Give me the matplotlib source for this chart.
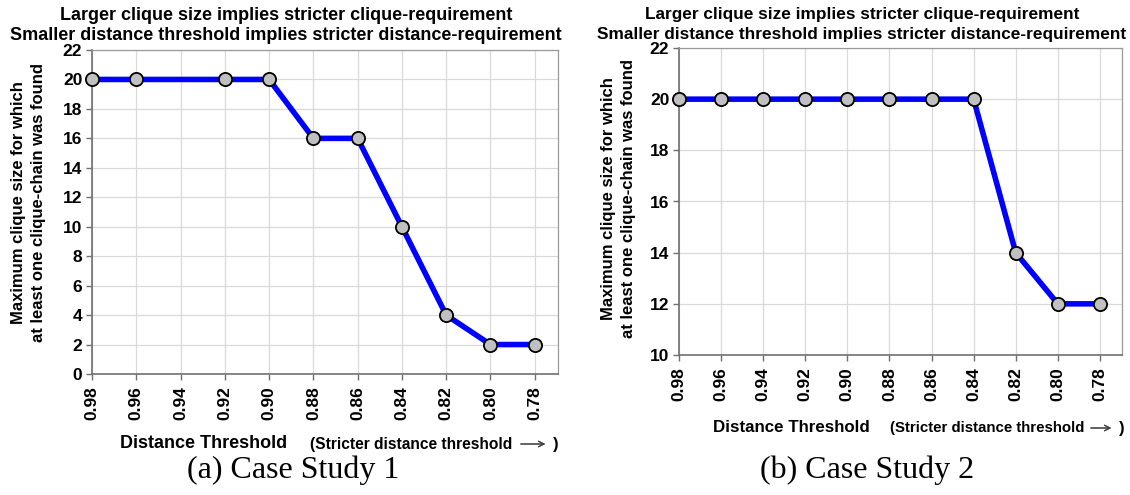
import matplotlib
matplotlib.use("Agg")
import matplotlib.pyplot as plt

# datos
umbral_1 = [0.98, 0.96, 0.92, 0.90, 0.88, 0.86, 0.84, 0.82, 0.80, 0.78]
clique_1 = [20, 20, 20, 20, 16, 16, 10, 4, 2, 2]

umbral_2 = [0.98, 0.96, 0.94, 0.92, 0.90, 0.88, 0.86, 0.84, 0.82, 0.80, 0.78]
clique_2 = [20, 20, 20, 20, 20, 20, 20, 20, 14, 12, 12]

xticks = [0.98, 0.96, 0.94, 0.92, 0.90, 0.88, 0.86, 0.84, 0.82, 0.80, 0.78]
yticks_1 = list(range(0, 23, 2))
yticks_2 = list(range(10, 23, 2))

titulo_1 = "Larger clique size implies stricter clique-requirement"
titulo_2 = "Smaller distance threshold implies stricter distance-requirement"
ylabel_1 = "Maximum clique size for which"
ylabel_2 = "at least one clique-chain was found"

plt.rcParams['font.family'] = ['Liberation Sans', 'DejaVu Sans']
plt.rcParams['font.weight'] = 'bold'

W, H = 1130, 495
fig = plt.figure(figsize=(11.3, 4.95), dpi=100)
ax1 = fig.add_axes([92/W, 1-374/H, (558-92)/W, (374-50)/H])
ax2 = fig.add_axes([679/W, 1-355/H, (1122-679)/W, (355-48)/H])


def dibujar(ax, x, y, yt):
    ax.plot(x, y, color='#0000ff', lw=4, marker='o', ms=9.5,
            mfc='#c0c0c0', mec='black', mew=1.3, zorder=3, clip_on=False)
    ax.set_xlim(0.98, 0.7695)
    ax.set_ylim(yt[0], yt[-1])
    ax.set_xticks(xticks)
    ax.set_xticklabels(["%.2f" % v for v in xticks], rotation=90,
                       fontsize=12.5, fontweight='bold')
    ax.set_yticks(yt)
    ax.set_yticklabels([str(v) for v in yt], fontsize=12.5, fontweight='bold')
    ax.grid(True, color='#d9d9d9', lw=0.9)
    ax.set_axisbelow(True)
    for s in ['top', 'right']:
        ax.spines[s].set_color('#9a9a9a')
        ax.spines[s].set_linewidth(0.9)
    for s in ['left', 'bottom']:
        ax.spines[s].set_color('#707070')
        ax.spines[s].set_linewidth(1.2)
    ax.tick_params(length=4, width=1, color='#707070')
    ax.tick_params(axis='x', pad=5)
    ax.tick_params(axis='y', pad=3)


dibujar(ax1, umbral_1, clique_1, yticks_1)
dibujar(ax2, umbral_2, clique_2, yticks_2)


def txt(x, y, s, **kw):
    fig.text(x/W, 1-y/H, s, **kw)


# titulos
for cx, fs in [(286, 13), (862, 12.4)]:
    txt(cx, 15, titulo_1, ha='center', va='center', fontsize=fs, fontweight='bold')
    txt(cx, 35, titulo_2, ha='center', va='center', fontsize=fs, fontweight='bold')

# etiquetas eje y
for x1, x2, cy in [(19, 39, 203), (608, 628, 199)]:
    txt(x1, cy, ylabel_1, ha='center', va='center', rotation=90,
        fontsize=12, fontweight='bold')
    txt(x2, cy, ylabel_2, ha='center', va='center', rotation=90,
        fontsize=12, fontweight='bold')

# etiquetas eje x
for cx, x0, y, fs, fs2, ax0, ax1_, px in [(204, 310, 444, 13, 11.2, 518, 548, 553),
                                          (791, 890, 428, 12.2, 10.8, 1088, 1114, 1119)]:
    txt(cx, y, "Distance Threshold", ha='center', va='center',
        fontsize=fs, fontweight='bold')
    txt(x0, y, "(Stricter distance threshold", ha='left', va='center',
        fontsize=fs2, fontweight='bold')
    fig.add_artist(plt.annotate("", xy=(ax1_/W, 1-y/H),
                                xytext=(ax0/W, 1-y/H),
                                xycoords='figure fraction',
                                arrowprops=dict(arrowstyle='->', lw=0.8,
                                                color='#404040')))
    txt(px, y, ")", ha='left', va='center', fontsize=12, fontweight='bold')

# subtitulos
txt(293, 470, "(a) Case Study 1", ha='center', va='center',
    fontsize=23, fontweight='normal', family='Liberation Serif')
txt(867, 470, "(b) Case Study 2", ha='center', va='center',
    fontsize=23, fontweight='normal', family='Liberation Serif')

fig.savefig("out.png", dpi=100)
